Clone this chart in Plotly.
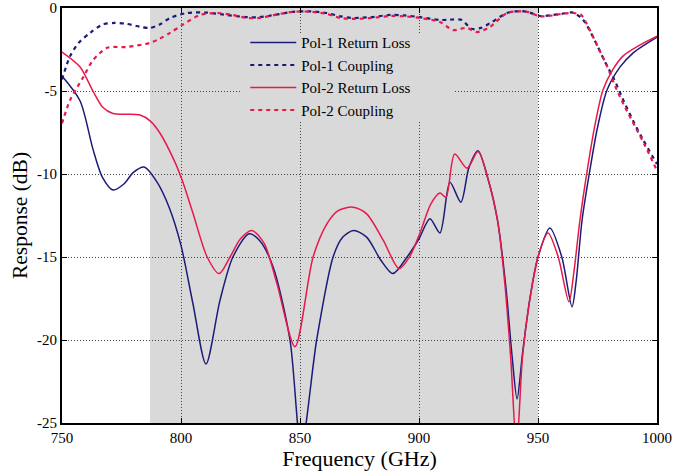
import plotly.graph_objects as go

# ---- data ----
pol1_rl_f = [750, 757.6, 763, 767, 771.4, 776, 780, 784.5, 790, 795, 800, 805, 810.5, 816.4, 821.8, 828.6, 833,
             838.7, 845.8, 850.5, 857, 863.9, 868, 872.5, 878, 884, 889, 895, 900, 904.6, 908.8, 913, 917.6, 921,
             924.8, 929, 933, 936.5, 939, 941.2, 943.5, 946.5, 950, 955, 960, 964.3, 966, 968.5, 972, 975, 979,
             984.5, 990, 995, 1000]
pol1_rl = [-4.1, -5.6, -8.5, -10.2, -10.96, -10.6, -9.9, -9.58, -10.5, -12.0, -14.3, -17.8, -21.45, -17.6, -15.0,
           -13.6, -14.0, -15.6, -20.0, -26.5, -20.0, -15.0, -13.8, -13.4, -13.8, -15.2, -16.0, -15.0, -13.9, -12.7,
           -13.55, -10.5, -11.7, -9.6, -8.6, -10.3, -12.8, -16.8, -20.8, -23.55, -20.8, -17.6, -15.0, -13.25, -15.0,
           -18.0, -16.5, -12.8, -9.6, -7.2, -4.94, -3.55, -2.7, -2.2, -1.75]

pol2_rl_f = [750, 757.6, 763, 767, 771.4, 777, 782.8, 787, 791, 797.5, 800.8, 805, 811, 816, 820.6, 825, 829.8,
             835, 840.3, 847.9, 855.5, 861.3, 866, 872.3, 878, 885, 891.6, 896, 900.4, 905, 908.8, 911.3, 915,
             920.2, 924.8, 929, 933, 936, 938.5, 941, 943.5, 946.5, 950, 954.2, 958.5, 963, 965, 967.6, 971, 974,
             977.3, 981.5, 985.7, 992, 1000]
pol2_rl = [-2.65, -3.55, -5.0, -5.96, -6.35, -6.4, -6.45, -6.8, -7.5, -9.3, -10.5, -12.35, -15.0, -16.0, -15.0,
           -13.9, -13.4, -14.2, -16.6, -20.4, -15.0, -13.0, -12.2, -12.0, -12.4, -14.0, -15.7, -15.0, -13.55,
           -11.8, -11.15, -11.4, -8.8, -9.65, -8.65, -10.3, -12.8, -16.5, -21.0, -26.5, -21.0, -17.6, -15.0,
           -13.55, -15.0, -17.7, -16.0, -12.8, -9.5, -7.0, -4.94, -3.7, -2.9, -2.3, -1.7]

pol1_cp_f = [750, 753.4, 757, 761.8, 767, 772, 777, 782.8, 787, 791, 795.4, 802.5, 811, 818, 827.7, 833, 840, 847,
             854, 861, 867, 872, 880, 887.8, 894, 900.4, 908.8, 913, 918, 922, 926, 930, 937, 942.4, 946, 950.8,
             956, 960, 964.7, 969, 974, 978, 982, 986, 990, 994, 1000]
pol1_cp = [-4.3, -2.9, -2.1, -1.5, -1.0, -0.9, -0.95, -1.13, -1.2, -1.0, -0.6, -0.3, -0.28, -0.4, -0.55, -0.55, -0.4,
           -0.23, -0.2, -0.3, -0.5, -0.6, -0.55, -0.42, -0.45, -0.55, -0.72, -0.7, -0.72, -1.25, -1.2, -0.9, -0.3,
           -0.18, -0.25, -0.48, -0.42, -0.35, -0.28, -0.72, -2.0, -3.2, -4.3, -5.6, -6.8, -7.9, -9.4]

pol2_cp_f = [750, 753.4, 759, 763, 769, 777, 787, 791, 795.4, 800.8, 808, 815, 821, 827.7, 833, 840, 847, 854, 861,
             867, 872, 880, 887.8, 894, 900.4, 908.8, 914.3, 920, 924.4, 929.8, 937, 942.4, 946, 950.8, 956, 960,
             964.7, 968, 971, 975, 979, 983, 987, 991, 995, 1000]
pol2_cp = [-6.95, -5.55, -4.15, -3.15, -2.4, -2.35, -2.1, -1.85, -1.5, -1.0, -0.42, -0.3, -0.4, -0.6, -0.6, -0.4,
           -0.23, -0.22, -0.35, -0.6, -0.66, -0.6, -0.48, -0.5, -0.6, -0.84, -1.33, -1.2, -1.45, -1.14, -0.3,
           -0.2, -0.25, -0.5, -0.45, -0.35, -0.3, -0.4, -1.1, -2.3, -3.5, -4.9, -6.1, -7.2, -8.3, -9.8]

band = [787, 950]
x_ticks = [750, 800, 850, 900, 950, 1000]
x_tick_text = ["750", "800", "850", "900", "950", "1000"]
y_ticks = [0, -5, -10, -15, -20, -25]
y_tick_text = ["0", "-5", "-10", "-15", "-20", "-25"]
names = ["Pol-1 Return Loss", "Pol-1 Coupling", "Pol-2 Return Loss", "Pol-2 Coupling"]

NAVY = "#1c1c78"
RED = "#e8194a"
SHADE = "#d9d9d9"
SERIF = "Liberation Serif"

fig = go.Figure()
series = [
    (pol1_rl_f, pol1_rl, NAVY, "solid", 1.5),
    (pol1_cp_f, pol1_cp, NAVY, "4px,4px", 2.2),
    (pol2_rl_f, pol2_rl, RED, "solid", 1.5),
    (pol2_cp_f, pol2_cp, RED, "4px,4px", 2.2),
]
for i, (fx, fy, col, dash, w) in enumerate(series):
    fig.add_trace(go.Scatter(
        x=fx, y=fy, mode="lines", name=names[i],
        line=dict(color=col, dash=dash, width=w, shape="spline", smoothing=0.8),
    ))

# shaded band (beneath the grid)
fig.add_shape(type="rect", xref="x", yref="paper", x0=band[0], x1=band[1], y0=0, y1=1,
              fillcolor=SHADE, line=dict(width=0), layer="below")
# legend panel covering the grid (no trace passes through it)
fig.add_shape(type="rect", xref="paper", yref="paper", x0=0.302, x1=0.6605, y0=0.7253, y1=0.9398,
              fillcolor=SHADE, line=dict(width=0), layer="above")

axis_common = dict(
    showline=True, linecolor="black", linewidth=2, mirror="ticks",
    ticks="inside", ticklen=5, tickcolor="black", tickwidth=1,
    showgrid=True, gridcolor="#444444", griddash="1px,2px", gridwidth=1,
    zeroline=False, automargin=False,
    tickfont=dict(family=SERIF, size=15, color="black"),
)
fig.update_xaxes(range=[750, 1000], tickvals=x_ticks, ticktext=x_tick_text, ticklabelstandoff=0,
                 title=dict(text="Frequency (GHz)", font=dict(family=SERIF, size=22, color="black"), standoff=0),
                 **axis_common)
fig.update_yaxes(range=[-25, 0], tickvals=y_ticks, ticktext=y_tick_text,
                 title=dict(text="Response (dB)", font=dict(family=SERIF, size=21.5, color="black"), standoff=3),
                 **axis_common)

fig.update_layout(
    width=676, height=474,
    margin=dict(l=62, r=19, t=8, b=51),
    plot_bgcolor="white", paper_bgcolor="white",
    legend=dict(x=0.308, y=0.956, xanchor="left", yanchor="top",
                bgcolor="rgba(0,0,0,0)", borderwidth=0, itemwidth=46, tracegroupgap=0,
                font=dict(family=SERIF, size=15, color="black")),
)

fig.write_html("out.html", config={"displayModeBar": False},
               post_script="document.body.style.margin='0';document.body.style.padding='0';")
